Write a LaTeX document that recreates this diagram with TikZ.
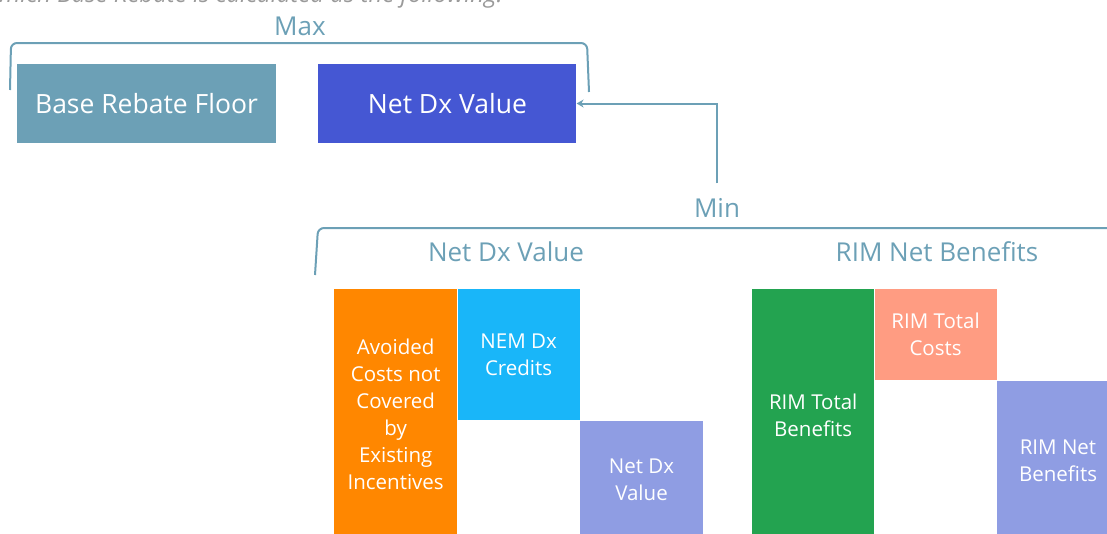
\documentclass[tikz,border=0pt]{standalone}
\usepackage{fontspec}
\setmainfont{Open Sans}
\usetikzlibrary{positioning,arrows.meta}
\definecolor{steel}{HTML}{6CA0B6}
\definecolor{royal}{HTML}{4557D3}
\definecolor{avoidorange}{HTML}{FF8700}
\definecolor{sky}{HTML}{19B6F9}
\definecolor{lavender}{HTML}{8F9DE3}
\definecolor{rimgreen}{HTML}{23A350}
\definecolor{salmon}{HTML}{FF9C82}
\definecolor{introgray}{HTML}{9A9A9A}
\tikzset{
  bar/.style={inner sep=0pt, text=white, align=center, anchor=north west,
    font=\fontsize{20.5}{27}\selectfont},
  topbox/.style={inner sep=0pt, text=white, minimum height=79pt,
    font=\fontsize{26.5}{30}\selectfont},
  heading/.style={inner sep=0pt, text=steel, font=\fontsize{26}{30}\selectfont},
  bracket/.style={draw=steel, line width=2pt, rounded corners=6pt},
}
\begin{document}
\begin{tikzpicture}[x=1pt,y=-1pt]
    \useasboundingbox (0,0) rectangle (1107,533);
    \clip (0,0) rectangle (1107,533);
    \node[anchor=base east, inner sep=0pt, text=introgray,
      font=\fontsize{24}{28}\selectfont\itshape] (intro) at (503,2)
      {which Base Rebate is calculated as the following.};
    % max of the two
    \node[heading] (max) at (300,26) {Max};
    \draw[bracket] (10,90) -- (11,43) -- (587,43) -- (589,92);
    \node[topbox, fill=steel, minimum width=259pt] (floor) at (146.5,103.5) {Base Rebate Floor};
    \node[topbox, fill=royal, minimum width=258pt, right=42pt of floor] (netdx) {Net Dx Value};
    % min of the two
    \node[heading] (min) at (717,208) {Min};
    \draw[bracket] (315,275) -- (318,228) -- (1115,228);
    \draw[steel, line width=2pt, -{Stealth[length=7pt,width=8pt]}]
      ([yshift=15pt]min.north) |- (netdx.east);
    \node[heading] (dxhead) at (506,252) {Net Dx Value};
    \node[heading] (rimhead) at (937,252) {RIM Net Benefits};
    \node[bar, fill=avoidorange, minimum width=123pt, minimum height=251pt] (avoided) at (334,289)
      {Avoided\\Costs not\\Covered\\by\\Existing\\Incentives};
    \node[bar, fill=sky, minimum width=122pt, minimum height=131pt] (credits) at (avoided.north east)
      {NEM Dx\\Credits};
    \node[bar, fill=lavender, minimum width=123pt, minimum height=119pt] (dxbar) at (credits.south east)
      {Net Dx\\Value};
    \node[bar, fill=rimgreen, minimum width=122pt, minimum height=252pt] (benefits) at (752,289)
      {RIM Total\\Benefits};
    \node[bar, fill=salmon, minimum width=122pt, minimum height=91pt] (costs) at (benefits.north east)
      {RIM Total\\Costs};
    \node[bar, fill=lavender, minimum width=122pt, minimum height=160pt] (rimnet) at (costs.south east)
      {RIM Net\\Benefits};
\end{tikzpicture}
\end{document}
